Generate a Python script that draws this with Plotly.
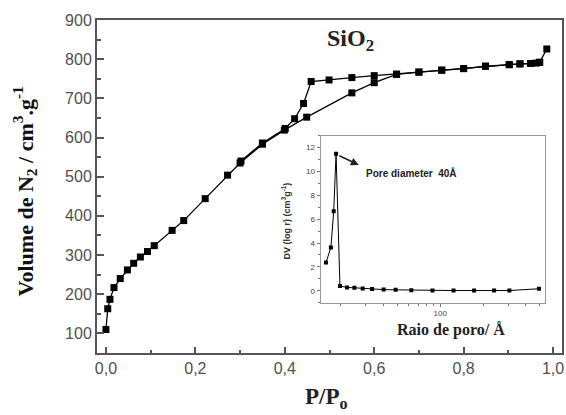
import numpy as np
import plotly.graph_objects as go

# ---- Main isotherm data (P/P0, volume N2 cm3/g) ----
ads_p = [0.000, 0.004, 0.009, 0.018, 0.032, 0.048, 0.062, 0.077, 0.093, 0.108,
         0.148, 0.174, 0.222, 0.272, 0.300, 0.350, 0.399, 0.449, 0.550, 0.600,
         0.650, 0.700, 0.751, 0.800, 0.849, 0.902, 0.926, 0.950, 0.962, 0.970, 0.986]
ads_v = [110, 163, 187, 217, 240, 262, 279, 295, 309, 324,
         363, 388, 444, 504, 535, 583, 619, 652, 714, 740,
         761, 767, 772, 776, 782, 786, 788, 789, 790, 792, 826]

des_p = [0.970, 0.950, 0.926, 0.902, 0.849, 0.800, 0.751, 0.700, 0.650, 0.600,
         0.550, 0.499, 0.459, 0.442, 0.422, 0.401, 0.350, 0.302]
des_v = [792, 789, 788, 786, 782, 776, 772, 767, 762, 758,
         753, 747, 743, 687, 648, 623, 586, 540]

x_ticks = [0.0, 0.2, 0.4, 0.6, 0.8, 1.0]
x_ticktext = ["0,0", "0,2", "0,4", "0,6", "0,8", "1,0"]
y_ticks = [100, 200, 300, 400, 500, 600, 700, 800, 900]

# ---- Inset: pore size distribution ----
pore_r = [15.8, 17.1, 17.9, 18.6, 19.8, 22.2, 25.0, 28.6, 33.3, 40.1,
          48.7, 62.7, 88.3, 124, 173, 239, 306, 493]
pore_dv = [2.36, 3.62, 6.66, 11.49, 0.40, 0.28, 0.25, 0.20, 0.15, 0.10,
           0.08, 0.05, 0.03, 0.02, 0.02, 0.02, 0.02, 0.17]
inset_y_ticks = [0, 2, 4, 6, 8, 10, 12]
inset_x_ticks = [100]
inset_x_minor = [20, 30, 40, 50, 60, 70, 80, 90, 200, 300, 400, 500]

SERIF = "Liberation Serif, Times New Roman, serif"
SANS = "Liberation Sans, Arial, sans-serif"
AXC = "#555555"

fig = go.Figure()

marker_main = dict(symbol="square", size=7, color="black")
fig.add_trace(go.Scatter(x=ads_p, y=ads_v, mode="lines+markers",
                         line=dict(color="black", width=1.3), marker=marker_main,
                         xaxis="x", yaxis="y", showlegend=False))
fig.add_trace(go.Scatter(x=des_p, y=des_v, mode="lines+markers",
                         line=dict(color="black", width=1.3), marker=marker_main,
                         xaxis="x", yaxis="y", showlegend=False))

fig.add_trace(go.Scatter(x=pore_r, y=pore_dv, mode="lines+markers",
                         line=dict(color="black", width=1),
                         marker=dict(symbol="square", size=4, color="black"),
                         xaxis="x2", yaxis="y2", showlegend=False))

fig.update_layout(
    width=566, height=415,
    margin=dict(l=97, r=2, t=20, b=62),
    paper_bgcolor="white", plot_bgcolor="white",
    xaxis=dict(range=[-0.02, 1.02], tickvals=x_ticks, ticktext=x_ticktext,
               ticks="inside", ticklen=6, tickwidth=1.5, tickcolor=AXC,
               minor=dict(dtick=0.1, tick0=0, ticks="inside", ticklen=3, tickcolor=AXC, tickwidth=1.5),
               showline=True, linecolor=AXC, linewidth=2, mirror=True,
               showgrid=False, zeroline=False,
               tickfont=dict(family=SANS, size=16, color="#505050")),
    yaxis=dict(range=[50, 900], tickvals=y_ticks,
               ticks="inside", ticklen=7, tickwidth=1.5, tickcolor=AXC,
               minor=dict(dtick=50, tick0=0, ticks="inside", ticklen=4, tickcolor=AXC, tickwidth=1.5),
               showline=True, linecolor=AXC, linewidth=2, mirror=True,
               showgrid=False, zeroline=False,
               tickfont=dict(family=SANS, size=16, color="#505050")),
    xaxis2=dict(type="log", domain=[0.481, 0.963], anchor="y2",
                range=[np.log10(14.5), np.log10(542)],
                tickvals=inset_x_ticks, ticktext=["100"],
                ticks="outside", ticklen=3, tickcolor="#777", tickwidth=1,
                minor=dict(tickvals=inset_x_minor, ticks="outside", ticklen=2, tickcolor="#777"),
                showline=True, linecolor="#999999", linewidth=1.2, mirror=True,
                showgrid=False, zeroline=False,
                tickfont=dict(family=SANS, size=8, color="#444")),
    yaxis2=dict(domain=[0.151, 0.6526], anchor="x2", range=[-1, 13],
                tickvals=inset_y_ticks,
                ticks="outside", ticklen=3, tickcolor="#777", tickwidth=1,
                minor=dict(dtick=1, tick0=0, ticks="outside", ticklen=2, tickcolor="#777"),
                showline=True, linecolor="#999999", linewidth=1.2, mirror=True,
                showgrid=False, zeroline=False,
                tickfont=dict(family=SANS, size=8, color="#444")),
)

annotations = [
    dict(text="<b>Volume de N<sub>2</sub> / cm<sup>3</sup>.g<sup>-1</sup></b>",
         xref="paper", yref="paper", x=-0.154, y=0.4865, textangle=-90,
         showarrow=False, xanchor="center", yanchor="middle",
         font=dict(family=SERIF, size=22, color="#111")),
    dict(text="<b>P/P<sub>o</sub></b>",
         xref="paper", yref="paper", x=0.4946, y=-0.136,
         showarrow=False, xanchor="center", yanchor="middle",
         font=dict(family=SERIF, size=23, color="#222")),
    dict(text="<b>SiO<sub>2</sub></b>",
         xref="paper", yref="paper", x=0.546, y=0.94,
         showarrow=False, xanchor="center", yanchor="middle",
         font=dict(family=SERIF, size=24, color="#222")),
    dict(text="<b>DV (log r) (cm<sup>3</sup>g<sup>-1</sup>)</b>",
         xref="paper", yref="paper", x=0.407, y=0.396, textangle=-90,
         showarrow=False, xanchor="center", yanchor="middle",
         font=dict(family=SANS, size=9, color="#333")),
    dict(text="<b>Raio de poro/ Å</b>",
         xref="paper", yref="paper", x=0.762, y=0.069,
         showarrow=False, xanchor="center", yanchor="middle",
         font=dict(family=SERIF, size=16, color="#222")),
    dict(text="<b>Pore diameter\u00a0 40Å</b>",
         xref="paper", yref="paper", x=0.574, y=0.542,
         showarrow=False, xanchor="left", yanchor="middle",
         font=dict(family=SANS, size=10, color="#222")),
    dict(text="", xref="paper", yref="paper", x=0.563, y=0.5646,
         ax=-21, ay=-10, showarrow=True, arrowhead=2, arrowsize=1,
         arrowwidth=1.6, arrowcolor="#222"),
]
fig.update_layout(annotations=annotations)

fig.write_html("out.html")
